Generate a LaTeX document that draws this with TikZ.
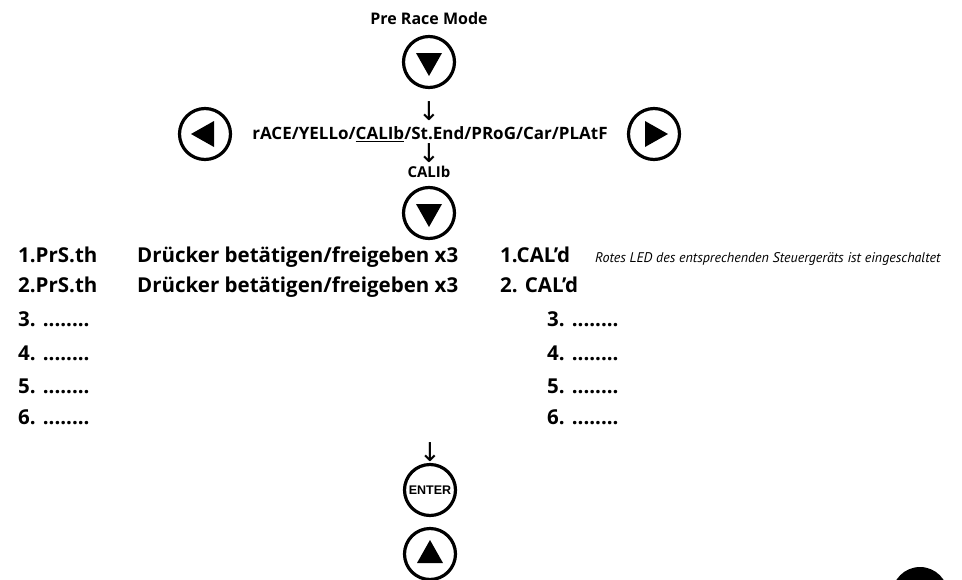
\documentclass[tikz,border=0pt]{standalone}
\usepackage{fontspec}
\setmainfont{Open Sans}
\newfontfamily\notefont{PT Sans}
\newfontfamily\arrowfont{DejaVu Sans}
\newfontfamily\enterfont{Liberation Sans}
\usetikzlibrary{calc}

\begin{document}
\begin{tikzpicture}[x=1pt,y=-1pt,
  btn/.style={circle,draw,line width=3.2pt,minimum size=51pt,inner sep=0pt},
  lbl/.style={font=\bfseries\fontsize{16}{18}\selectfont,inner sep=0pt},
  row/.style={font=\bfseries\fontsize{20.5}{22}\selectfont,anchor=base west,inner sep=0pt},
  dwn/.style={font=\arrowfont\fontsize{26}{26}\selectfont,inner sep=0pt}]
\useasboundingbox (0,0) rectangle (962,579);
\clip (0,0) rectangle (962,579);
% mode selection
\node[lbl] (pre) at (429,18) {Pre Race Mode};
\node[btn] (dn1) at (429,62) {};
\node[dwn] (arA) at (429,111) {↓};
\node[lbl,font=\bfseries\fontsize{17}{18}\selectfont] (menu) at (430,134) {rACE/YELLo/\underline{CALIb}/St.End/PRoG/Car/PLAtF};
\node[btn] (lt) at (205,134) {};
\node[btn] (rt) at (654,134) {};
\node[dwn] (arB) at (429,153) {↓};
\node[lbl,font=\bfseries\fontsize{15}{18}\selectfont] (calib) at (429,172) {CALIb};
\node[btn] (dn2) at (429,213) {};
% calibration steps
\node[row] (l1) at (18,262) {1.PrS.th};
\node[row] (d1) at (137,262) {Drücker betätigen/freigeben x3};
\node[row] (l2) at (18,292) {2.PrS.th};
\node[row] (d2) at (137,292) {Drücker betätigen/freigeben x3};
\node[row] (r1) at (500,262) {1.CAL’d};
\node[anchor=base west,inner sep=0pt,font=\notefont\itshape\fontsize{14}{15}\selectfont] (note) at (595,262)
  {Rotes LED des entsprechenden Steuergeräts ist eingeschaltet};
\node[row] (r2) at (500,292) {2. CAL’d};
\foreach \n/\y in {3/326,4/360,5/393,6/424} {
  \node[row] (l\n) at (18,\y) {\n. ........};
  \node[row] (r\n) at (547,\y) {\n. ........};
}
% confirm
\node[dwn] (arC) at (430,452) {↓};
\node[btn,font=\enterfont\bfseries\fontsize{12.5}{12}\selectfont] (ent) at (430,490) {ENTER};
\node[btn] (up) at (430,554) {};
% arrow heads inside the buttons
\foreach \b/\a in {dn1/90,dn2/90,lt/180,rt/0,up/270}
  \fill ($(\b)+(\a:14)$) -- ($(\b)+(\a+180:9)+(\a+90:13)$) -- ($(\b)+(\a+180:9)+(\a-90:13)$) -- cycle;
\node[circle,fill,minimum size=56pt,inner sep=0pt] (dot) at (920,595) {};
\end{tikzpicture}
\end{document}
